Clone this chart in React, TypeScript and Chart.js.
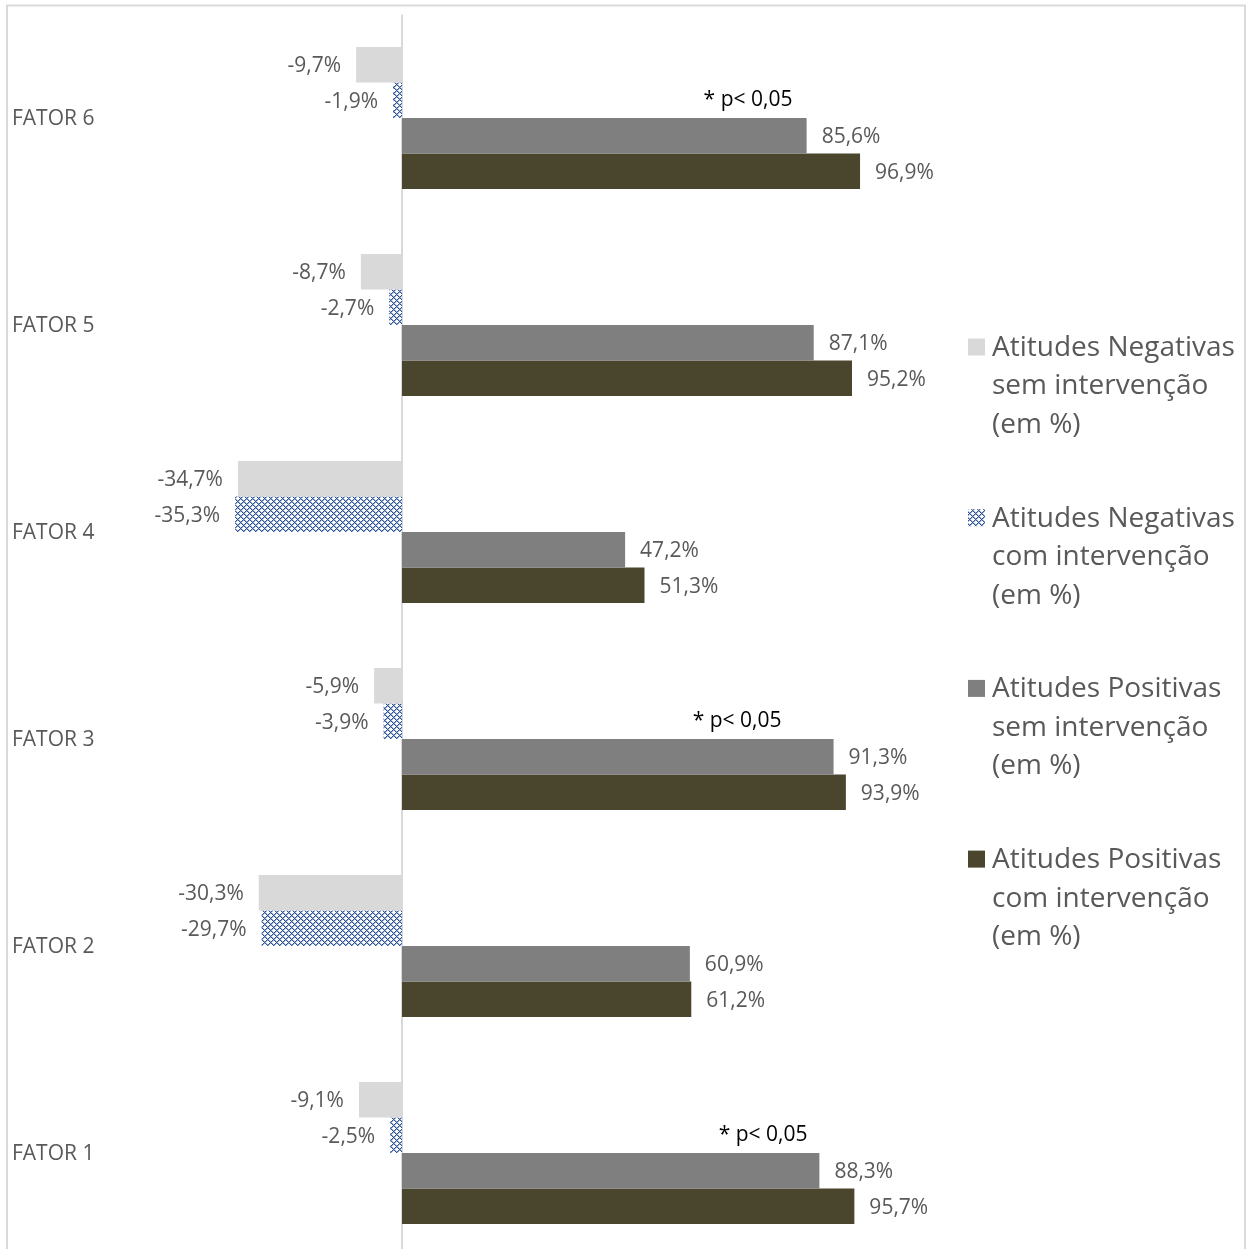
import React, { useEffect, useRef } from "react";
import { Chart, registerables } from "chart.js";

Chart.register(...registerables);

const categories = ["FATOR 6", "FATOR 5", "FATOR 4", "FATOR 3", "FATOR 2", "FATOR 1"];
const negSem = [-9.7, -8.7, -34.7, -5.9, -30.3, -9.1];
const negCom = [-1.9, -2.7, -35.3, -3.9, -29.7, -2.5];
const posSem = [85.6, 87.1, 47.2, 91.3, 60.9, 88.3];
const posCom = [96.9, 95.2, 51.3, 93.9, 61.2, 95.7];
const seriesLabels = [
  ["Atitudes Negativas", "sem intervenção", "(em %)"],
  ["Atitudes Negativas", "com intervenção", "(em %)"],
  ["Atitudes Positivas", "sem intervenção", "(em %)"],
  ["Atitudes Positivas", "com intervenção", "(em %)"],
];
const sigCategories = ["FATOR 6", "FATOR 3", "FATOR 1"];
const sigPositions = [73.2, 70.9, 76.4];
const sigText = "* p< 0,05";

const FONT = "'Open Sans', sans-serif";
const TEXT = "#595959";

function makePattern(): CanvasPattern | string {
  const c = document.createElement("canvas");
  c.width = 6;
  c.height = 6;
  const g = c.getContext("2d");
  if (!g) return "#2F5597";
  g.fillStyle = "#ffffff";
  g.fillRect(0, 0, 6, 6);
  for (let x = 0; x < 6; x++) {
    for (let y = 0; y < 6; y++) {
      const a = (x + y) % 6 === 0;
      const b = (x - y + 6) % 6 === 0;
      const a2 = (x + y) % 6 === 1;
      const b2 = (x - y + 6) % 6 === 1;
      if (a || b) {
        g.fillStyle = "#2F5597";
        g.fillRect(x, y, 1, 1);
      } else if (a2 || b2) {
        g.fillStyle = "#9DB2D6";
        g.fillRect(x, y, 1, 1);
      }
    }
  }
  return g.createPattern(c, "repeat") || "#2F5597";
}

export default function App() {
  const ref = useRef<HTMLCanvasElement | null>(null);

  useEffect(() => {
    document.body.style.margin = "0";
    document.body.style.overflow = "hidden";
    document.documentElement.style.overflow = "hidden";
    const canvas = ref.current;
    if (!canvas) return;
    const pattern = makePattern();
    const colors: any[] = ["#D9D9D9", pattern, "#7F7F7F", "#4A452D"];

    const overlay = {
      id: "overlay",
      beforeDatasetsDraw(chart: any) {
        const ctx = chart.ctx;
        const x0 = chart.scales.x.getPixelForValue(0);
        ctx.save();
        ctx.strokeStyle = "#D9D9D9";
        ctx.lineWidth = 2;
        ctx.beginPath();
        ctx.moveTo(x0, chart.chartArea.top);
        ctx.lineTo(x0, chart.chartArea.bottom);
        ctx.stroke();
        ctx.restore();
      },
      afterDatasetsDraw(chart: any) {
        const ctx = chart.ctx;
        ctx.save();
        ctx.font = `21px ${FONT}`;
        ctx.fillStyle = TEXT;
        ctx.textBaseline = "middle";
        chart.data.datasets.forEach((ds: any, di: number) => {
          const meta = chart.getDatasetMeta(di);
          meta.data.forEach((bar: any, i: number) => {
            const v = ds.data[i];
            const txt = v.toFixed(1).replace(".", ",") + "%";
            if (v < 0) {
              ctx.textAlign = "right";
              ctx.fillText(txt, bar.x - 15, bar.y + 1.5);
            } else {
              ctx.textAlign = "left";
              ctx.fillText(txt, bar.x + 15, bar.y + 1.5);
            }
          });
        });
        // category labels
        ctx.textAlign = "left";
        const ys = chart.scales.y;
        categories.forEach((cat, i) => {
          ctx.fillText(cat, 12, ys.getPixelForValue(i) + 1);
        });
        // significance annotations
        ctx.fillStyle = "#000000";
        ctx.textAlign = "center";
        const meta1 = chart.getDatasetMeta(1);
        sigCategories.forEach((cat, k) => {
          const idx = categories.indexOf(cat);
          const bar: any = meta1.data[idx];
          const x = chart.scales.x.getPixelForValue(sigPositions[k]);
          ctx.fillText(sigText, x, bar.y);
        });
        ctx.restore();
      },
      afterDraw(chart: any) {
        const ctx = chart.ctx;
        ctx.save();
        // border
        ctx.strokeStyle = "#D9D9D9";
        ctx.lineWidth = 2;
        ctx.strokeRect(7, 5.5, 1238, 1300);
        // legend
        const lx = 968;
        const ly0 = 347;
        const gap = 170.7;
        const lh = 38.5;
        ctx.font = `28px ${FONT}`;
        ctx.textBaseline = "middle";
        ctx.textAlign = "left";
        seriesLabels.forEach((lines, i) => {
          const y = ly0 + gap * i;
          ctx.fillStyle = colors[i];
          ctx.fillRect(lx, y - 8.5, 17, 17);
          ctx.fillStyle = TEXT;
          lines.forEach((ln, j) => {
            ctx.fillText(ln, lx + 24, y + j * lh + 1);
          });
        });
        ctx.restore();
      },
    };

    const chart = new Chart(canvas, {
      type: "bar",
      data: {
        labels: categories,
        datasets: [negSem, negCom, posSem, posCom].map((d, i) => ({
          label: seriesLabels[i].join(" "),
          data: d,
          backgroundColor: colors[i],
          borderWidth: 0,
          categoryPercentage: 0.686,
          barPercentage: 1,
        })),
      },
      options: {
        indexAxis: "y",
        responsive: false,
        animation: false,
        layout: { padding: { left: 12, right: 302.4, top: 14.5, bottom: 6.5 } },
        plugins: {
          legend: { display: false },
          tooltip: { enabled: false },
        },
        scales: {
          x: {
            display: false,
            min: -50,
            max: 115,
          },
          y: {
            grid: { display: false },
            border: { display: false },
            ticks: { display: false },
            afterFit(scale: any) {
              scale.width = 153.65;
            },
          },
        },
      },
      plugins: [overlay],
    });
    return () => chart.destroy();
  }, []);

  return (
    <div style={{ position: "absolute", left: 0, top: 0, width: 1248, height: 1249, overflow: "hidden", background: "#fff" }}>
      <canvas ref={ref} width={1248} height={1263} style={{ display: "block" }} />
    </div>
  );
}
